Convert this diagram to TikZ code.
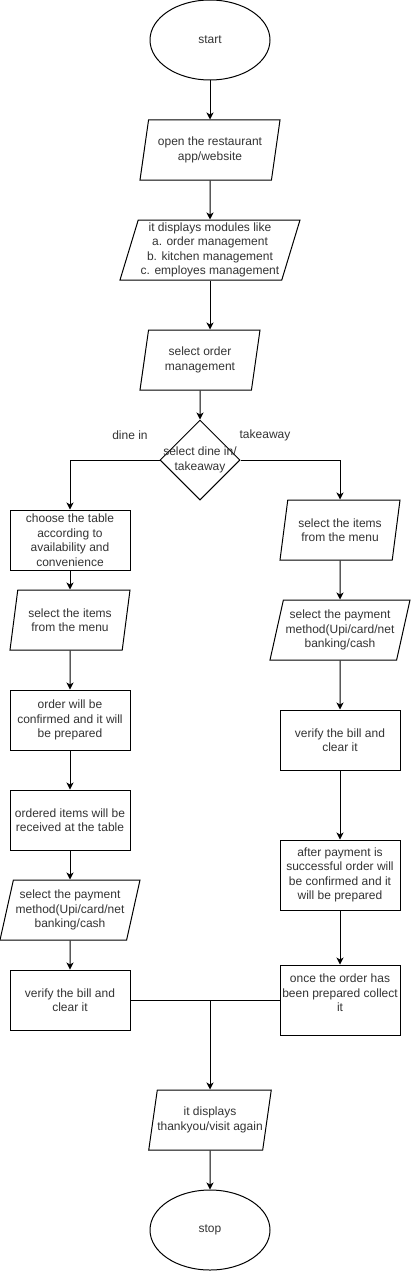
\documentclass[tikz,border=0pt]{standalone}
\usepackage{fontspec}
\setmainfont{Liberation Sans}
\usetikzlibrary{shapes.geometric,arrows.meta}

\begin{document}
\begin{tikzpicture}[x=1pt,y=-1pt]
\tikzstyle{every path}=[line width=1pt]
\tikzstyle{every node}=[font=\fontsize{12}{14.5}\selectfont,align=center,inner sep=0pt,text=black!80]

\edef\boxwidth{120pt}
\tikzstyle{fcbox}=[draw,rectangle,minimum width=\boxwidth,minimum height=60pt]
\tikzstyle{fcio}=[draw,trapezium,trapezium left angle=71.57,trapezium right angle=108.43,
trapezium stretches body,minimum width=\boxwidth,minimum height=60pt]
\tikzstyle{fcterm}=[draw,ellipse,minimum width=\boxwidth,minimum height=80pt]
\tikzstyle{fcchoice}=[draw,diamond,minimum width=80pt,minimum height=80pt,inner xsep=-12pt]
\tikzstyle{flow}=[->,>={Stealth[length=7pt,width=7pt,inset=2pt]}]

\useasboundingbox (0,0) rectangle (411,1271);

%% Main column
\node [fcterm] at (210,40) (start) {start};
\node [fcio,minimum width=140pt] at (210,150) (open) {open the restaurant\\app/website};
\node [fcio,minimum width=180pt] at (210,250) (mods)
	{it displays modules like\\a. order management\\b. kitchen management\\c. employes management};
\node [fcio] at (200,360) (order) {select order\\management};
\node [fcchoice] at (200,460) (choice) {select dine in/\\takeaway};
\node at (130,435) (dinein) {dine in};
\node at (265,435) (takeaway) {takeaway};

%% Dine in branch
\node [fcbox] at (70,540) (table) {choose the table\\according to\\availability and\\convenience};
\node [fcio] at (70,620) (dineitems) {select the items\\from the menu};
\node [fcbox] at (70,720) (prep) {order will be\\confirmed and it will\\be prepared};
\node [fcbox] at (70,820) (serve) {ordered items will be\\received at the table};
\node [fcio,minimum width=140pt] at (70,910) (dinepay) {select the payment\\method(Upi/card/net\\banking/cash};
\node [fcbox] at (70,1000) (dinebill) {verify the bill and\\clear it};

%% Takeaway branch
\node [fcio] at (340,530) (takeitems) {select the items\\from the menu};
\node [fcio,minimum width=140pt] at (340,630) (takepay) {select the payment\\method(Upi/card/net\\banking/cash};
\node [fcbox] at (340,740) (takebill) {verify the bill and\\clear it};
\node [fcbox,minimum height=70pt] at (340,875) (confirm)
	{after payment is\\successful order will\\be confirmed and it\\will be prepared};
\node [fcbox,minimum height=70pt] at (340,1000) (collect) {once the order has\\been prepared collect\\it\\\mbox{}};

%% End
\node [fcio] at (210,1120) (thanks) {it displays\\thankyou/visit again};
\node [fcterm] at (210,1230) (stop) {stop};

%% Connectors
\draw[flow] (start) -- (open);
\draw[flow] (open) -- (mods);
\draw[flow] (mods.south) -- (mods.south |- order.north);
\draw[flow] (order) -- (choice);
\draw[flow] (choice.west) -| (table.north);
\draw[flow] (choice.east) -| (takeitems.north);

\foreach \a/\b in {table/dineitems,dineitems/prep,prep/serve,serve/dinepay,dinepay/dinebill,
	takeitems/takepay,takepay/takebill,takebill/confirm,confirm/collect}
	\draw[flow] (\a) -- (\b);

% Both branches meet
\draw (dinebill.east) -- (collect.west);
\coordinate (join) at (dinebill.east -| thanks.north);
\draw[flow] (join) -- (thanks.north);
\draw[flow] (thanks) -- (stop);

\end{tikzpicture}
\end{document}
